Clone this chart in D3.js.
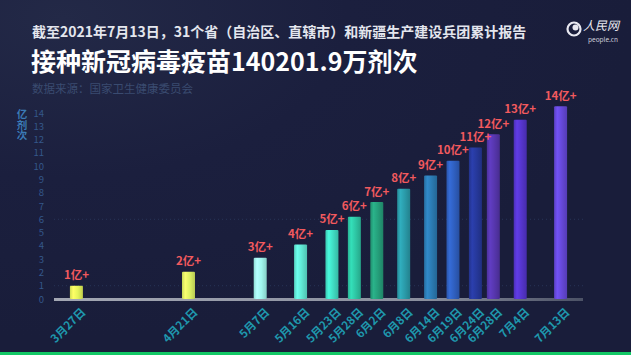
<!DOCTYPE html>
<html>
<head>
<meta charset="utf-8">
<script src="https://cdn.jsdelivr.net/npm/d3@7"></script>
<style>
html,body{margin:0;padding:0;background:#191d3b;}
svg{display:block;}
text{font-family:"Noto Sans CJK SC","Noto Sans",sans-serif;}
</style>
</head>
<body>
<svg id="chart" width="631" height="355"></svg>
<script>
// ---- data ----
const dates = ["2021-03-27","2021-04-21","2021-05-07","2021-05-16","2021-05-23","2021-05-28","2021-06-02","2021-06-08","2021-06-14","2021-06-19","2021-06-24","2021-06-28","2021-07-04","2021-07-13"];
const dateLabels = ["3月27日","4月21日","5月7日","5月16日","5月23日","5月28日","6月2日","6月8日","6月14日","6月19日","6月24日","6月28日","7月4日","7月13日"];
const values = [1.0, 2.05, 3.1, 4.1, 5.2, 6.2, 7.3, 8.3, 9.3, 10.4, 11.4, 12.4, 13.5, 14.5];
const valueLabels = ["1亿+","2亿+","3亿+","4亿+","5亿+","6亿+","7亿+","8亿+","9亿+","10亿+","11亿+","12亿+","13亿+","14亿+"];
const barColors = ["#e6f55a","#dcf163","#9ff5ec","#5fe6d2","#40dcc3","#2ec6a4","#259e7a","#2a9aa8","#2b7ab2","#2f5fbf","#26389a","#5636ac","#5535cc","#6548d8"];
const yTicks = [0,1,2,3,4,5,6,7,8,9,10,11,12,13,14];
const titleLine1 = "截至2021年7月13日，31个省（自治区、直辖市）和新疆生产建设兵团累计报告";
const titleLine2 = "接种新冠病毒疫苗140201.9万剂次";
const sourceText = "数据来源：国家卫生健康委员会";
const yTitle = "亿剂次";

const parse = d3.timeParse("%Y-%m-%d");
const data = dates.map((d,i)=>({date:parse(d), label:dateLabels[i], v:values[i], vl:valueLabels[i], c:barColors[i]}));

const svg = d3.select("#chart");
const W = 631, H = 355;

// background
const defs = svg.append("defs");
const bg = defs.append("radialGradient").attr("id","bg").attr("cx","0.1").attr("cy","0.05").attr("r","0.9");
bg.append("stop").attr("offset","0").attr("stop-color","#232947");
bg.append("stop").attr("offset","0.5").attr("stop-color","#1b1f3e");
bg.append("stop").attr("offset","1").attr("stop-color","#191d3a");
svg.append("rect").attr("width",W).attr("height",H).attr("fill","url(#bg)");
svg.append("rect").attr("x",0).attr("y",352).attr("width",W).attr("height",3).attr("fill","#12c865");

// scales
const x = d3.scaleTime().domain([parse("2021-03-22"), parse("2021-07-18")]).range([54, 583]);
const y = d3.scaleLinear().domain([0,14]).range([299, 113]);

// titles
svg.append("text").attr("x",32).attr("y",37).attr("fill","#e4e6ee").attr("font-size",14).attr("font-weight","bold").text(titleLine1);
svg.append("text").attr("x",31).attr("y",71).attr("fill","#ffffff").attr("font-size",25).attr("font-weight","bold").text(titleLine2);
svg.append("text").attr("x",32).attr("y",93).attr("fill","#3a4b70").attr("font-size",11.5).text(sourceText);

// logo
const logo = svg.append("g");
logo.append("circle").attr("cx",574).attr("cy",29).attr("r",6.5).attr("fill","none").attr("stroke","#e8e8f0").attr("stroke-width",2.2);
logo.append("circle").attr("cx",575.5).attr("cy",27.5).attr("r",3).attr("fill","#e8e8f0");
logo.append("text").attr("x",583).attr("y",30).attr("fill","#e8e8f0").attr("font-size",12).attr("font-style","italic").attr("font-family","'Noto Sans CJK SC',serif").text("人民网");
logo.append("text").attr("x",588).attr("y",42).attr("fill","#d0d0dc").attr("font-size",6.5).attr("font-family","'DejaVu Sans'").text("people.cn");

// y axis title (vertical)
svg.append("text").attr("x",22).attr("y",109)
  .attr("style","writing-mode: vertical-rl; text-orientation: upright;")
  .attr("fill","#3b7ab6").attr("font-size",10.5).attr("font-weight","bold")
  .text(yTitle);

// faint dotted gridlines
svg.append("g").selectAll("line").data([1,6]).join("line")
  .attr("x1",54).attr("x2",583).attr("y1",d=>y(d)).attr("y2",d=>y(d))
  .attr("stroke","#2c3a5e").attr("stroke-width",0.8).attr("stroke-dasharray","1,3");

// y axis
const yAxis = svg.append("g").attr("transform","translate(44,0)")
  .call(d3.axisLeft(y).tickValues(yTicks).tickSize(0).tickPadding(0));
yAxis.select(".domain").remove();
yAxis.selectAll("text").attr("fill","#34578a").attr("font-size",9.5).attr("font-family","'Noto Sans CJK SC',sans-serif");

// baseline
const bl = defs.append("linearGradient").attr("id","bl");
bl.append("stop").attr("offset","0").attr("stop-color","#a3a7b3");
bl.append("stop").attr("offset","0.7").attr("stop-color","#8a8f9e");
bl.append("stop").attr("offset","1").attr("stop-color","#4c5266");
svg.append("rect").attr("x",x.range()[0]).attr("y",y(0)-1).attr("width",x.range()[1]-x.range()[0]).attr("height",3).attr("fill","url(#bl)");

// bar gradients
data.forEach((d,i)=>{
  const g = defs.append("linearGradient").attr("id","bar"+i).attr("x1","0").attr("x2","1").attr("y1","0").attr("y2","0");
  const c = d3.color(d.c);
  g.append("stop").attr("offset","0").attr("stop-color",c.darker(0.3));
  g.append("stop").attr("offset","0.25").attr("stop-color",c.brighter(0.35));
  g.append("stop").attr("offset","0.6").attr("stop-color",c);
  g.append("stop").attr("offset","1").attr("stop-color",c.darker(0.5));
});

const bw = 13;
svg.append("g").selectAll("rect").data(data).join("rect")
  .attr("x",d=>x(d.date)-bw/2).attr("width",bw)
  .attr("y",d=>y(d.v)).attr("height",d=>y(0)-y(d.v))
  .attr("rx",1)
  .attr("fill",(d,i)=>"url(#bar"+i+")");

// value labels
svg.append("g").selectAll("text").data(data).join("text")
  .attr("x",d=>x(d.date)).attr("y",d=>y(d.v)-6.5)
  .attr("text-anchor","middle").attr("fill","#f25a5e")
  .attr("font-size",11.5).attr("font-weight","bold")
  .text(d=>d.vl);

// x labels
svg.append("g").selectAll("text").data(data).join("text")
  .attr("transform",d=>`translate(${x(d.date)+7},${y(0)+11}) rotate(-45)`)
  .attr("text-anchor","end").attr("dy","0.35em")
  .attr("fill","#1f98ad").attr("font-size",11.5).attr("font-weight","bold")
  .text(d=>d.label);
</script>
</body>
</html>
